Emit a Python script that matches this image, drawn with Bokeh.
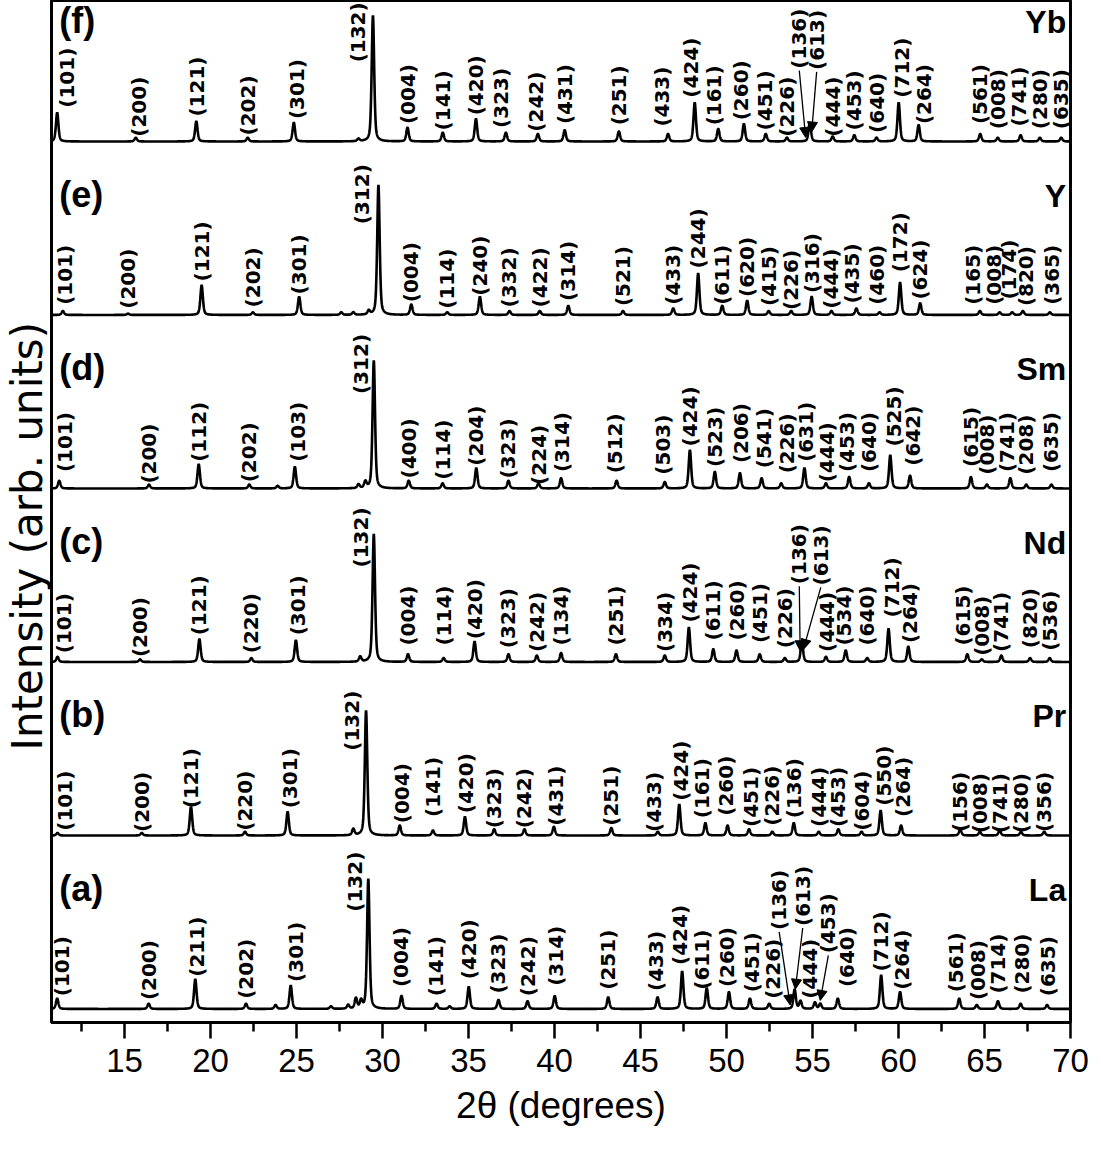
import numpy as np
from bokeh.plotting import figure
from bokeh.models import Range1d, FixedTicker, Arrow, NormalHead, ColumnDataSource, Title
from bokeh.core.properties import value
from bokeh.embed import file_html
from bokeh.resources import INLINE

# ---------------- data (2theta in degrees, heights in % of strongest peak) ----------------
x_ticks = [15, 20, 25, 30, 35, 40, 45, 50, 55, 60, 65, 70]
x_minor = [12.5, 17.5, 22.5, 27.5, 32.5, 37.5, 42.5, 47.5, 52.5, 57.5, 62.5, 67.5]

# (a) La
a_peak_x = [11.08, 16.4, 19.11, 22.06, 23.78, 24.66, 27.0, 28.0, 28.45, 28.75, 29.17, 31.1, 33.14, 33.9, 35.01,
            36.74, 38.43, 40.01, 43.12, 45.99, 47.42, 48.85, 50.14, 51.36, 52.48, 53.96, 54.3, 55.14, 55.45,
            56.47, 58.99, 60.09, 63.53, 64.55, 65.78, 67.1, 68.64]
a_peak_h = [8, 4, 23, 4, 3, 18, 2, 3, 8, 6, 100, 10, 4, 2, 17, 7, 6, 10, 9, 9, 29, 16, 13, 8, 4, 15, 6, 5, 4,
            8, 26, 13, 8, 3, 6, 4, 3]
a_labels = ["(101)", "(200)", "(211)", "(202)", "(301)", "(132)", "(004)", "(141)", "(420)", "(323)", "(242)",
            "(314)", "(251)", "(433)", "(424)", "(611)", "(260)", "(451)", "(226)", "(136)", "(613)", "(444)",
            "(453)", "(640)", "(712)", "(264)", "(561)", "(008)", "(714)", "(280)", "(635)"]
a_label_x = [11.38, 16.4, 19.21, 22.06, 24.97, 28.4, 31.1, 33.1, 35.0, 36.74, 38.43, 40.11, 43.12, 45.9, 47.27,
             48.6, 50.03, 51.46, 52.69, 53.06, 54.43, 54.84, 55.92, 56.98, 58.99, 60.21, 63.32, 64.65, 65.78,
             67.17, 68.68]
a_label_h = [11, 8, 26, 9, 22, 76, 18, 11, 24, 13, 11, 19, 16, 15, 35, 16, 18, 14, 9, 62, 65, 9, 44, 18, 30, 16,
             14, 8, 13, 13, 11]
a_arrows = [("(136)", 53.7), ("(613)", 54.0), ("(453)", 55.45)]

# (b) Pr
b_peak_x = [11.1, 16.0, 18.86, 22.0, 24.48, 28.3, 29.04, 31.0, 32.93, 34.79, 36.49, 38.25, 39.96, 43.3, 46.0,
            47.25, 48.77, 50.06, 51.31, 52.66, 53.91, 55.36, 56.5, 57.85, 58.96, 60.15, 63.59, 64.73, 65.88,
            67.12, 68.47]
b_peak_h = [2, 2, 23, 3, 19, 5, 100, 8, 4, 15, 5, 5, 7, 6, 3, 25, 10, 8, 5, 3, 10, 3, 5, 3, 20, 8, 5, 3, 4, 3, 3]
b_labels = ["(101)", "(200)", "(121)", "(220)", "(301)", "(132)", "(004)", "(141)", "(420)", "(323)", "(242)",
            "(431)", "(251)", "(433)", "(424)", "(161)", "(260)", "(451)", "(226)", "(136)", "(444)", "(453)",
            "(604)", "(550)", "(264)", "(156)", "(008)", "(741)", "(280)", "(356)"]
b_label_x = [11.55, 16.0, 18.86, 22.0, 24.59, 28.21, 31.11, 32.93, 34.83, 36.49, 38.25, 40.07, 43.3, 45.79, 47.35,
             48.6, 49.95, 51.41, 52.66, 53.91, 55.36, 56.5, 57.85, 59.17, 60.26, 63.59, 64.73, 65.88, 67.12, 68.47]
b_label_h = [5, 4, 23, 5, 23, 69, 11, 16, 19, 7, 7, 9, 9, 4, 29, 15, 17, 8, 9, 15, 8, 8, 5, 25, 16, 4, 3, 3, 3, 4]
b_arrows = []

# (c) Nd
c_peak_x = [11.1, 15.9, 19.35, 22.37, 24.96, 28.7, 29.49, 31.48, 33.55, 35.35, 37.32, 38.97, 40.38, 43.57, 46.41,
            47.81, 49.23, 50.58, 51.93, 53.39, 54.38, 55.78, 56.93, 58.18, 59.42, 60.57, 64.0, 64.84, 65.98,
            67.65, 68.79]
c_peak_h = [4, 2, 18, 3, 17, 4, 100, 6, 3, 16, 6, 5, 7, 6, 5, 27, 10, 9, 6, 3, 16, 4, 9, 3, 26, 12, 6, 2, 5, 3, 3]
c_labels = ["(101)", "(200)", "(121)", "(220)", "(301)", "(132)", "(004)", "(114)", "(420)", "(323)", "(242)",
            "(134)", "(251)", "(334)", "(424)", "(611)", "(260)", "(451)", "(226)", "(136)", "(613)", "(444)",
            "(534)", "(640)", "(712)", "(264)", "(615)", "(008)", "(741)", "(820)", "(536)"]
c_label_x = [11.45, 15.9, 19.35, 22.37, 25.08, 28.73, 31.5, 33.55, 35.38, 37.3, 38.97, 40.38, 43.57, 46.41, 47.85,
             49.23, 50.58, 51.93, 53.39, 54.23, 55.48, 55.85, 56.83, 58.18, 59.6, 60.64, 63.77, 64.84, 65.98,
             67.65, 68.79]
c_label_h = [8, 5, 22, 8, 22, 75, 14, 14, 19, 12, 9, 14, 14, 9, 32, 18, 18, 16, 12, 62, 61, 9, 14, 14, 36, 16, 14,
             6, 9, 12, 10]
c_arrows = [("(136)", 54.28), ("(613)", 54.47)]

# (d) Sm
d_peak_x = [11.2, 16.42, 19.31, 22.25, 23.9, 24.9, 28.6, 29.0, 29.49, 31.52, 33.49, 35.45, 37.32, 39.07, 40.38,
            43.61, 46.41, 47.87, 49.32, 50.78, 52.04, 53.18, 54.53, 55.78, 57.13, 58.28, 59.52, 60.67, 64.21,
            65.14, 66.5, 67.43, 68.89]
d_peak_h = [6, 3, 19, 3, 2, 17, 3, 5, 100, 6, 4, 16, 6, 4, 8, 6, 5, 30, 13, 12, 8, 4, 16, 4, 9, 4, 26, 10, 9, 3,
            8, 3, 3]
d_labels = ["(101)", "(200)", "(112)", "(202)", "(103)", "(312)", "(400)", "(114)", "(204)", "(323)", "(224)",
            "(314)", "(512)", "(503)", "(424)", "(523)", "(206)", "(541)", "(226)", "(631)", "(444)", "(453)",
            "(640)", "(525)", "(642)", "(615)", "(008)", "(741)", "(208)", "(635)"]
d_label_x = [11.55, 16.42, 19.35, 22.25, 25.1, 28.73, 31.52, 33.49, 35.45, 37.32, 39.07, 40.45, 43.5, 46.3, 47.87,
             49.32, 50.85, 52.15, 53.49, 54.6, 55.85, 57.0, 58.28, 59.74, 60.87, 64.21, 65.14, 66.29, 67.43, 68.89]
d_label_h = [14, 5, 22, 6, 22, 75, 9, 8, 19, 9, 4, 14, 13, 12, 34, 18, 21, 17, 13, 22, 6, 14, 14, 34, 19, 18, 12,
             14, 12, 14]
d_arrows = []

# (e) Y
e_peak_x = [11.41, 15.2, 19.48, 22.46, 25.15, 27.6, 28.3, 29.2, 29.76, 31.67, 33.76, 35.66, 37.38, 39.14, 40.8,
            43.98, 46.9, 48.35, 49.75, 51.2, 52.45, 53.76, 54.95, 56.1, 57.55, 58.9, 60.09, 61.26, 64.73, 65.88,
            66.61, 67.23, 68.8]
e_peak_h = [3, 1, 23, 2, 14, 2, 2, 3, 100, 8, 2, 14, 3, 3, 7, 3, 5, 32, 7, 11, 3, 3, 14, 3, 5, 2, 25, 9, 3, 2, 2,
            3, 2]
e_labels = ["(101)", "(200)", "(121)", "(202)", "(301)", "(312)", "(004)", "(114)", "(240)", "(332)", "(422)",
            "(314)", "(521)", "(433)", "(244)", "(611)", "(620)", "(415)", "(226)", "(316)", "(444)", "(435)",
            "(460)", "(172)", "(624)", "(165)", "(008)", "(174)", "(820)", "(365)"]
e_label_x = [11.55, 15.17, 19.48, 22.46, 25.15, 28.83, 31.67, 33.76, 35.66, 37.38, 39.14, 40.8, 43.98, 46.9, 48.35,
             49.75, 51.2, 52.45, 53.76, 54.95, 56.1, 57.3, 58.76, 60.09, 61.26, 64.32, 65.56, 66.4, 67.43, 68.9]
e_label_h = [9, 6, 27, 7, 17, 71, 11, 6, 16, 7, 7, 12, 8, 9, 37, 9, 15, 8, 5, 18, 6, 10, 9, 34, 13, 9, 9, 13, 8, 9]
e_arrows = []

# (f) Yb
f_peak_x = [11.08, 15.65, 19.17, 22.16, 24.84, 28.6, 29.44, 31.45, 33.5, 35.43, 37.17, 39.03, 40.59, 43.74, 46.6,
            48.15, 49.52, 51.01, 52.28, 53.51, 54.84, 56.17, 57.43, 58.72, 60.01, 61.17, 64.75, 65.77, 67.1,
            68.22, 69.46]
f_peak_h = [23, 3, 16, 3, 15, 2, 100, 11, 7, 18, 7, 6, 9, 8, 6, 31, 10, 14, 6, 3, 15, 4, 5, 3, 31, 13, 6, 3, 5,
            3, 3]
f_labels = ["(101)", "(200)", "(121)", "(202)", "(301)", "(132)", "(004)", "(141)", "(420)", "(323)", "(242)",
            "(431)", "(251)", "(433)", "(424)", "(161)", "(260)", "(451)", "(226)", "(136)", "(613)", "(444)",
            "(453)", "(640)", "(712)", "(264)", "(561)", "(008)", "(741)", "(280)", "(635)"]
f_label_x = [11.68, 15.85, 19.2, 22.2, 25.0, 28.56, 31.5, 33.5, 35.43, 36.9, 38.94, 40.6, 43.74, 46.25, 47.94,
             49.3, 50.87, 52.24, 53.5, 54.23, 55.24, 56.2, 57.43, 58.72, 60.21, 61.48, 64.75, 65.77, 67.0,
             68.22, 69.46]
f_label_h = [28, 5, 21, 6, 19, 64, 15, 10, 22, 12, 9, 15, 14, 13, 36, 14, 18, 10, 5, 59, 58, 5, 10, 8, 36, 15, 15,
             11, 13, 11, 11]
f_arrows = [("(136)", 54.6), ("(613)", 54.95)]

panel_letters = ["(a)", "(b)", "(c)", "(d)", "(e)", "(f)"]
panel_names = ["La", "Pr", "Nd", "Sm", "Y", "Yb"]
y_title = "Intensity (arb. units)"

# ---------------- layout (screen-like data units) ----------------
H = 1022
bases = [12, 185.5, 359, 532.5, 706, 879.5]
main_h = [130, 125, 128, 128, 130, 126]
fwhm = 0.17

panels = [
    (a_peak_x, a_peak_h, a_labels, a_label_x, a_label_h, a_arrows),
    (b_peak_x, b_peak_h, b_labels, b_label_x, b_label_h, b_arrows),
    (c_peak_x, c_peak_h, c_labels, c_label_x, c_label_h, c_arrows),
    (d_peak_x, d_peak_h, d_labels, d_label_x, d_label_h, d_arrows),
    (e_peak_x, e_peak_h, e_labels, e_label_x, e_label_h, e_arrows),
    (f_peak_x, f_peak_h, f_labels, f_label_x, f_label_h, f_arrows),
]

SANS = "Liberation Sans"

p = figure(width=1090, height=1153, x_range=Range1d(10.75, 70), y_range=Range1d(0, H),
           output_backend="svg", toolbar_location=None,
           min_border_left=4, min_border_right=20, min_border_top=0, min_border_bottom=131)
p.xgrid.visible = False
p.ygrid.visible = False
p.outline_line_color = "black"
p.outline_line_width = 3
p.background_fill_color = "white"
p.border_fill_color = "white"

xa = p.xaxis[0]
xa.ticker = FixedTicker(ticks=x_ticks, minor_ticks=x_minor)
xa.major_tick_out = 16
xa.major_tick_in = 0
xa.minor_tick_out = 9
xa.minor_tick_in = 0
xa.major_tick_line_width = 2.5
xa.minor_tick_line_width = 2.5
xa.axis_line_width = 3
xa.major_label_text_font = SANS
xa.major_label_text_font_size = "33px"
xa.major_label_text_color = "black"
xa.major_label_standoff = 10
xa.axis_label = "2θ (degrees)"
xa.axis_label_text_font = SANS
xa.axis_label_text_font_size = "37px"
xa.axis_label_text_font_style = "normal"
xa.axis_label_text_color = "black"
xa.axis_label_standoff = 10

p.yaxis.visible = False
p.add_layout(Title(text=y_title, align="left", offset=272, standoff=0,
                   text_font="DejaVu Sans", text_font_size="42px", text_font_style="normal",
                   text_color="black"), "left")

xs = np.arange(10.75, 70.0001, 0.01)


def profile(px, ph, x):
    out = np.zeros_like(x)
    for x0, h in zip(px, ph):
        d = (x - x0) / fwhm
        out += h * (0.45 / (1 + 4 * d * d) + 0.55 * np.exp(-4 * np.log(2) * d * d))
    return out


for i, (px, ph, labs, lx, lh, arrs) in enumerate(panels):
    b = bases[i]
    s = main_h[i] / 100.0
    ys = b + s * (1.2 + profile(px, ph, xs))
    p.line(xs, ys, line_color="black", line_width=2.6)

    src = ColumnDataSource(dict(x=lx, y=[b + s * v for v in lh], t=labs))
    p.text(x="x", y="y", text="t", source=src, angle=np.pi / 2, text_align="left",
           text_baseline="middle", text_font=value("DejaVu Sans"), text_font_style="bold",
           text_font_size="20px", text_color="black")

    for lab, tx in arrs:
        k = labs.index(lab)
        ty = b + s * (1.2 + profile(px, ph, np.array([tx]))[0]) + 3
        p.add_layout(Arrow(end=NormalHead(size=10, line_color="black", fill_color="black", line_width=1),
                           x_start=lx[k], y_start=b + s * lh[k] - 2, x_end=tx, y_end=ty,
                           line_color="black", line_width=1.3))

    p.text(x=[11.2], y=[b + 143], text=[panel_letters[i]], text_align="left", text_baseline="top",
           text_font=value(SANS), text_font_style="bold", text_font_size="36px",
           text_color="black")
    p.text(x=[69.75], y=[b + 139], text=[panel_names[i]], text_align="right", text_baseline="top",
           text_font=value(SANS), text_font_style="bold", text_font_size="32px",
           text_color="black")

open("out.html", "w").write(file_html(p, INLINE))
